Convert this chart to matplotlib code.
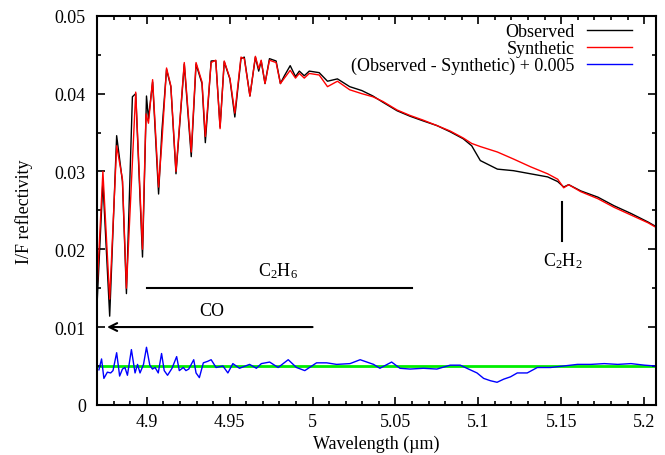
import matplotlib
matplotlib.use("Agg")
import matplotlib.pyplot as plt
from matplotlib.ticker import MultipleLocator

plt.rcParams['font.family'] = ['Liberation Serif', 'DejaVu Serif']
plt.rcParams['mathtext.fontset'] = 'custom'
plt.rcParams['mathtext.rm'] = 'Liberation Serif'
plt.rcParams['mathtext.it'] = 'Liberation Serif:italic'

# observed spectrum (um, I/F)
obs_wl = [4.8700, 4.8735, 4.8776, 4.8818, 4.8853, 4.8877, 4.8913, 4.8933, 4.8974, 4.8998,
          4.9010, 4.9035, 4.9071, 4.9091, 4.9119, 4.9145, 4.9176, 4.9226, 4.9268, 4.9297,
          4.9333, 4.9353, 4.9388, 4.9416, 4.9442, 4.9467, 4.9501, 4.9531, 4.9568, 4.9588,
          4.9622, 4.9655, 4.9675, 4.9690, 4.9713, 4.9740, 4.9780, 4.9806, 4.9830, 4.9865,
          4.9897, 4.9920, 4.9950, 4.9980, 5.0040, 5.0090, 5.0150, 5.0224, 5.0297, 5.0364,
          5.0424, 5.0510, 5.0588, 5.0667, 5.0750, 5.0830, 5.0909, 5.0960, 5.1012, 5.1115,
          5.1212, 5.1315, 5.1418, 5.1479, 5.1515, 5.1545, 5.1618, 5.1721, 5.1818, 5.1921,
          5.2024, 5.2073]
obs_val = [0.0130, 0.0287, 0.0114, 0.0346, 0.0287, 0.0143, 0.0396, 0.0400, 0.0190, 0.0397,
           0.0368, 0.0415, 0.0271, 0.0352, 0.0431, 0.0409, 0.0297, 0.0438, 0.0319, 0.0438,
           0.0413, 0.0337, 0.0442, 0.04425, 0.0357, 0.0441, 0.0419, 0.0370, 0.0445, 0.0447,
           0.0397, 0.0447, 0.0429, 0.0442, 0.0413, 0.0445, 0.0442, 0.0413, 0.0423, 0.0436,
           0.0422, 0.0429, 0.0423, 0.0429, 0.0427, 0.0416, 0.0419, 0.0409, 0.0404, 0.0397,
           0.0389, 0.0378, 0.0371, 0.0365, 0.0359, 0.0351, 0.0342, 0.0333, 0.0314, 0.0303,
           0.0301, 0.0297, 0.0293, 0.0287, 0.0280, 0.0283, 0.0275, 0.0267, 0.0256, 0.0246,
           0.0235, 0.0229]

# synthetic spectrum
syn_wl = [4.8700, 4.8735, 4.8776, 4.8818, 4.8853, 4.8877, 4.8933, 4.8974, 4.8995, 4.9010,
          4.9035, 4.9071, 4.9091, 4.9119, 4.9145, 4.9176, 4.9226, 4.9268, 4.9297, 4.9333,
          4.9353, 4.9388, 4.9416, 4.9442, 4.9467, 4.9501, 4.9531, 4.9568, 4.9588, 4.9622,
          4.9655, 4.9675, 4.9690, 4.9713, 4.9740, 4.9780, 4.9806, 4.9830, 4.9865, 4.9897,
          4.9920, 4.9950, 4.9980, 5.0040, 5.0090, 5.0150, 5.0224, 5.0297, 5.0364, 5.0424,
          5.0510, 5.0588, 5.0667, 5.0750, 5.0830, 5.0909, 5.0960, 5.1012, 5.1115, 5.1212,
          5.1315, 5.1418, 5.1479, 5.1515, 5.1545, 5.1618, 5.1721, 5.1818, 5.1921, 5.2024,
          5.2073]
syn_val = [0.0150, 0.0300, 0.0136, 0.0333, 0.0290, 0.0150, 0.0402, 0.0200, 0.0374, 0.0362,
           0.0418, 0.0280, 0.0338, 0.0433, 0.0410, 0.0300, 0.0440, 0.0325, 0.0440, 0.0415,
           0.0345, 0.0440, 0.0443, 0.0355, 0.0442, 0.0420, 0.0375, 0.0447, 0.0445, 0.0397,
           0.0448, 0.0432, 0.0443, 0.0413, 0.0443, 0.0440, 0.0413, 0.0420, 0.0430, 0.0420,
           0.0426, 0.0420, 0.0426, 0.0424, 0.0409, 0.0416, 0.0405, 0.0400, 0.0396, 0.0390,
           0.0379, 0.0372, 0.0366, 0.0359, 0.0352, 0.0343, 0.0336, 0.0332, 0.0325, 0.0316,
           0.0306, 0.0297, 0.0290, 0.0279, 0.0283, 0.0274, 0.0265, 0.0254, 0.0244, 0.0234,
           0.0228]

# residual (observed - synthetic) + 0.005
res_wl = [4.8711, 4.8727, 4.8741, 4.8762, 4.8782, 4.8796, 4.8818, 4.8836, 4.8853, 4.8868,
          4.8883, 4.8907, 4.8929, 4.8944, 4.8959, 4.8980, 4.8998, 4.9018, 4.9034, 4.9050,
          4.9069, 4.9089, 4.9105, 4.9125, 4.9152, 4.9180, 4.9196, 4.9220, 4.9236, 4.9253,
          4.9283, 4.9297, 4.9317, 4.9341, 4.9368, 4.9388, 4.9418, 4.9459, 4.9489, 4.9519,
          4.9559, 4.9620, 4.9661, 4.9691, 4.9741, 4.9792, 4.9853, 4.9903, 4.9953, 5.0024,
          5.0085, 5.0145, 5.0226, 5.0287, 5.0368, 5.0406, 5.0477, 5.0527, 5.0588, 5.0668,
          5.0750, 5.0830, 5.0891, 5.0941, 5.0992, 5.1032, 5.1073, 5.1113, 5.1153, 5.1194,
          5.1235, 5.1295, 5.1356, 5.1436, 5.1517, 5.1598, 5.1679, 5.1760, 5.1841, 5.1921,
          5.2002, 5.2062]
res_val = [0.0045, 0.0059, 0.0034, 0.0042, 0.0041, 0.0044, 0.0067, 0.0037, 0.0046, 0.0048,
           0.0038, 0.0071, 0.0041, 0.0052, 0.0041, 0.0052, 0.0074, 0.0051, 0.0046, 0.0048,
           0.0041, 0.0066, 0.0044, 0.0038, 0.0047, 0.0062, 0.0044, 0.0048, 0.0044, 0.0046,
           0.0058, 0.0041, 0.0035, 0.0054, 0.0056, 0.0058, 0.0048, 0.0050, 0.0041, 0.0053,
           0.0047, 0.0052, 0.0047, 0.0053, 0.0055, 0.0048, 0.0058, 0.0048, 0.0044, 0.0054,
           0.0054, 0.0052, 0.0053, 0.0058, 0.0052, 0.0047, 0.0055, 0.0047, 0.0046, 0.0047,
           0.0046, 0.0051, 0.0051, 0.0046, 0.0041, 0.0034, 0.0031, 0.0029, 0.0033, 0.0036,
           0.0041, 0.0041, 0.0048, 0.0048, 0.0050, 0.0052, 0.0052, 0.0053, 0.0052, 0.0053,
           0.0051, 0.0050]

fig = plt.figure(figsize=(6.65, 4.56), dpi=100)
ax = fig.add_axes([0.146, 0.110, 0.840, 0.853])

ax.plot(obs_wl, obs_val, color='black', lw=1.0, label='Observed')
ax.plot(syn_wl, syn_val, color='red', lw=1.0, label='Synthetic')
ax.plot(res_wl, res_val, color='blue', lw=1.0, label='(Observed - Synthetic) + 0.005')
ax.axhline(0.005, color='#00ee00', lw=2.0, zorder=1)

# band markers
ax.plot([4.9, 5.06], [0.015, 0.015], color='black', lw=1.5)
ax.text(4.979, 0.0160, 'C$_2$H$_6$', ha='center', va='bottom', fontsize=13)
ax.annotate('', xy=(4.876, 0.010), xytext=(5.0, 0.010),
            arrowprops=dict(arrowstyle='->', lw=1.5, color='black',
                            mutation_scale=14, shrinkA=0, shrinkB=0))
ax.text(4.939, 0.0110, 'CO', ha='center', va='bottom', fontsize=13)
ax.plot([5.1507, 5.1507], [0.0211, 0.0261], color='black', lw=1.5)
ax.text(5.1507, 0.0199, 'C$_2$H$_2$', ha='center', va='top', fontsize=13)

ax.set_xlim(4.87, 5.207)
ax.set_ylim(0, 0.05)
ax.xaxis.set_major_locator(MultipleLocator(0.05))
ax.xaxis.set_minor_locator(MultipleLocator(0.01))
ax.yaxis.set_major_locator(MultipleLocator(0.01))
ax.yaxis.set_minor_locator(MultipleLocator(0.005))
ax.set_xticks([4.9, 4.95, 5.0, 5.05, 5.1, 5.15, 5.2])
ax.set_xticklabels(['4.9', '4.95', '5', '5.05', '5.1', '5.15', '5.2'])
ax.set_yticks([0, 0.01, 0.02, 0.03, 0.04, 0.05])
ax.set_yticklabels(['0', '0.01', '0.02', '0.03', '0.04', '0.05'])
ax.tick_params(which='both', direction='in', top=True, right=True, labelsize=13, width=1.2)
ax.tick_params(which='major', length=6)
ax.tick_params(which='minor', length=3)
ax.tick_params(axis='y', pad=8)
ax.tick_params(axis='x', pad=6)
for s in ax.spines.values():
    s.set_linewidth(1.5)

ax.set_xlabel('Wavelength (\u00b5m)', fontsize=13, labelpad=3)
ax.set_ylabel('I/F reflectivity', fontsize=13, labelpad=16)

ax.legend(loc='upper right', bbox_to_anchor=(0.971, 1.0), borderaxespad=0,
          frameon=False, markerfirst=False, fontsize=13,
          handlelength=2.5, handletextpad=0.7, labelspacing=0.0)

fig.savefig('out.png', dpi=100)
